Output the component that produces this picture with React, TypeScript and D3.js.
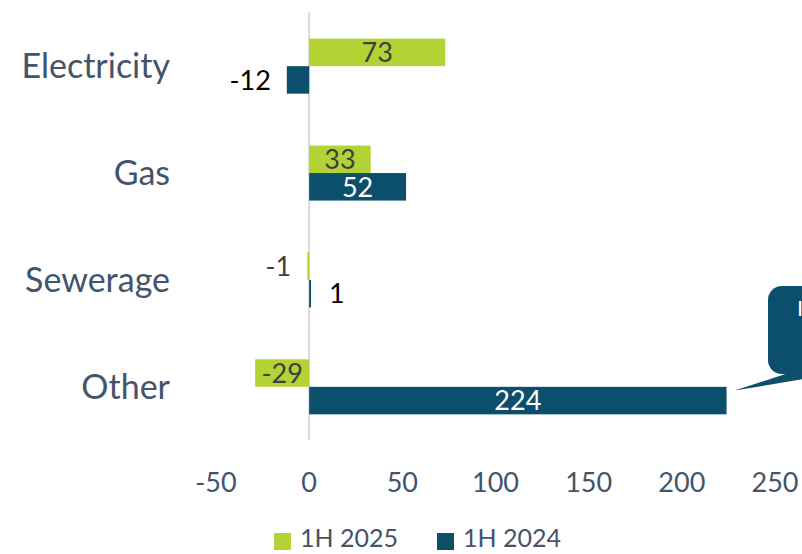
import { useCallback, useEffect, useRef } from "react";
import * as d3 from "d3";

const categories = ["Electricity", "Gas", "Sewerage", "Other"];
const values2025 = [73, 33, -1, -29];
const values2024 = [-12, 52, 1, 224];
const seriesNames = ["1H 2025", "1H 2024"];
const xTicks = [-50, 0, 50, 100, 150, 200, 250];

const GREEN = "#b3d234";
const TEAL = "#0b4f6c";
const SLATE = "#44546a";
const FONT = "Lato, 'Open Sans', sans-serif";

export default function App() {
  const chart = useRef<SVGSVGElement | null>(null);
  const width = 802;
  const height = 554;

  const drawChart = useCallback(() => {
    const svg = d3.select(chart.current);
    svg.selectAll("*").remove();

    const x = d3.scaleLinear().domain([-50, 250]).range([216, 775]);
    const y = d3.scaleBand<string>().domain(categories).range([13, 440]).paddingInner(0.485).paddingOuter(0.24);
    const sub = d3.scaleBand<string>().domain(seriesNames).range([0, y.bandwidth()]);

    // zero line
    svg.append("line")
      .attr("x1", x(0)).attr("x2", x(0))
      .attr("y1", 12).attr("y2", 440)
      .attr("stroke", "#d9d9d9").attr("stroke-width", 2);

    const series = [
      { name: seriesNames[0], values: values2025, color: GREEN, inside: "#404040" },
      { name: seriesNames[1], values: values2024, color: TEAL, inside: "#ffffff" },
    ];

    series.forEach((s) => {
      const g = svg.append("g");
      s.values.forEach((v, i) => {
        const cat = categories[i];
        const y0 = (y(cat) ?? 0) + (sub(s.name) ?? 0);
        const h = sub.bandwidth();
        const x0 = Math.min(x(0), x(v));
        const w = Math.abs(x(v) - x(0));
        g.append("rect")
          .attr("x", x0).attr("y", y0)
          .attr("width", Math.max(w, 1.5)).attr("height", h)
          .attr("fill", s.color);

        const fits = w > 45;
        const label = g.append("text")
          .attr("y", y0 + h / 2)
          .attr("dy", "0.36em")
          .attr("font-family", FONT)
          .attr("font-size", "27px")
          .text(String(v));
        if (fits) {
          label.attr("x", x0 + w / 2).attr("text-anchor", "middle").attr("fill", s.inside);
        } else if (v < 0) {
          label.attr("x", x(v) - 16).attr("text-anchor", "end")
            .attr("fill", s.name === seriesNames[0] ? "#404040" : "#000000");
        } else {
          label.attr("x", x(v) + 18).attr("text-anchor", "start").attr("fill", "#000000");
        }
      });
    });

    // category labels
    svg.append("g")
      .selectAll("text")
      .data(categories)
      .enter()
      .append("text")
      .attr("x", 170)
      .attr("y", (d) => (y(d) ?? 0) + y.bandwidth() / 2)
      .attr("dy", "0.36em")
      .attr("text-anchor", "end")
      .attr("fill", SLATE)
      .attr("font-family", FONT)
      .attr("font-size", "34px")
      .text((d) => d);

    // x tick labels
    svg.append("g")
      .selectAll("text")
      .data(xTicks)
      .enter()
      .append("text")
      .attr("x", (d) => x(d))
      .attr("y", 482)
      .attr("dy", "0.36em")
      .attr("text-anchor", "middle")
      .attr("fill", SLATE)
      .attr("font-family", FONT)
      .attr("font-size", "27px")
      .text((d) => String(d));

    // legend
    const legendX = [274, 437];
    series.forEach((s, i) => {
      svg.append("rect")
        .attr("x", legendX[i]).attr("y", 533)
        .attr("width", 17).attr("height", 17)
        .attr("fill", s.color);
      svg.append("text")
        .attr("x", legendX[i] + 26).attr("y", 538)
        .attr("dy", "0.36em")
        .attr("fill", SLATE)
        .attr("font-family", FONT)
        .attr("font-size", "25px")
        .text(s.name);
    });

    // callout (cut off at right edge)
    const tipX = x(224) + 8;
    const tipY = (y("Other") ?? 0) + y.bandwidth() * 0.75 - 10;
    svg.append("path")
      .attr("d", `M${tipX},${tipY} L810,366 L810,378 Z`)
      .attr("fill", TEAL);
    svg.append("rect")
      .attr("x", 768).attr("y", 286)
      .attr("width", 80).attr("height", 88)
      .attr("rx", 14)
      .attr("fill", TEAL);
    svg.append("text")
      .attr("x", 797).attr("y", 316)
      .attr("fill", "#ffffff")
      .attr("font-family", FONT)
      .attr("font-size", "22px")
      .text("I");
  }, [width, height]);

  useEffect(() => {
    drawChart();
  }, [drawChart]);

  return (
    <svg
      ref={chart}
      width={width}
      height={height}
      style={{ position: "absolute", top: 0, left: 0, background: "#ffffff" }}
    ></svg>
  );
}
